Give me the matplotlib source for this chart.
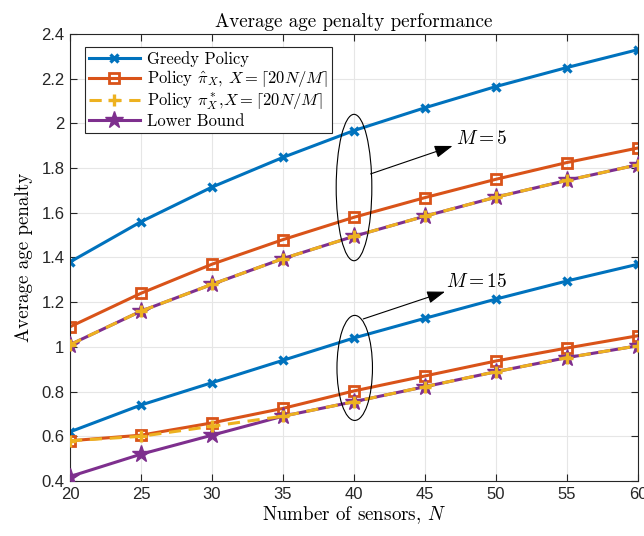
import matplotlib.pyplot as plt
from matplotlib.patches import Ellipse

plt.rcParams['mathtext.fontset'] = 'cm'

# Data
N = [20, 25, 30, 35, 40, 45, 50, 55, 60]

# M = 5
greedy_m5 = [1.38, 1.56, 1.715, 1.848, 1.968, 2.07, 2.165, 2.25, 2.33]
hat_m5 = [1.09, 1.24, 1.37, 1.48, 1.58, 1.668, 1.75, 1.825, 1.89]
star_m5 = [1.01, 1.16, 1.28, 1.395, 1.495, 1.585, 1.67, 1.745, 1.815]
lower_m5 = [1.01, 1.16, 1.28, 1.395, 1.495, 1.585, 1.67, 1.745, 1.815]

# M = 15
greedy_m15 = [0.62, 0.74, 0.84, 0.94, 1.04, 1.128, 1.214, 1.295, 1.37]
hat_m15 = [0.58, 0.605, 0.66, 0.725, 0.803, 0.87, 0.937, 0.995, 1.05]
star_m15 = [0.58, 0.60, 0.645, 0.69, 0.755, 0.822, 0.889, 0.952, 1.005]
lower_m15 = [0.42, 0.52, 0.605, 0.69, 0.755, 0.822, 0.889, 0.952, 1.005]

labels = ['Greedy Policy',
          r'Policy $\hat{\pi}_X$, $X=\lceil 20N/M\rceil$',
          r'Policy $\pi^*_X$,$X=\lceil 20N/M\rceil$',
          'Lower Bound']

blue = '#0072BD'
orange = '#D95319'
yellow = '#EDB120'
purple = '#7E2F8E'

fig = plt.figure(figsize=(6.44, 5.36), dpi=100)
ax = fig.add_axes([0.1087, 0.1026, 0.882, 0.834])

lw = 2.2
for i, (g, h, s, lb) in enumerate([(greedy_m5, hat_m5, star_m5, lower_m5),
                                   (greedy_m15, hat_m15, star_m15, lower_m15)]):
    lab = labels if i == 0 else ['_nolegend_'] * 4
    ax.plot(N, g, color=blue, lw=lw, marker='x', ms=5.5, mew=2.4, label=lab[0])
    ax.plot(N, h, color=orange, lw=lw, marker='s', ms=7.3, mfc='none', mew=2, label=lab[1])
    ax.plot(N, lb, color=purple, lw=lw, marker='*', ms=13, label=lab[3], zorder=3)
    ax.plot(N, s, color=yellow, lw=lw, ls=(0, (4, 2.5)), marker='+', ms=8, mew=2.4,
            label=lab[2], zorder=4)

# put legend entries back into the original order
handles, labs = ax.get_legend_handles_labels()
order = [0, 1, 3, 2]
leg = ax.legend([handles[k] for k in order], [labs[k] for k in order],
                loc='upper left', bbox_to_anchor=(0.02, 0.978), fancybox=False,
                edgecolor='#262626', framealpha=1,
                prop={'family': 'cmr10', 'size': 11.9},
                handlelength=3.1, borderpad=0.25, labelspacing=0.08,
                handletextpad=0.4, borderaxespad=0.2)
leg.get_frame().set_linewidth(0.8)

# ellipses and annotations
ax.add_patch(Ellipse((40.0, 1.713), 2.51, 0.655, fill=False, ec='black', lw=0.8, zorder=5))
ax.add_patch(Ellipse((40.05, 0.906), 2.5, 0.47, fill=False, ec='black', lw=0.8, zorder=5))
head = '-|>,head_length=1.1,head_width=0.38'
ax.annotate('', xy=(46.94, 1.899), xytext=(41.17, 1.774),
            arrowprops=dict(arrowstyle=head, color='black', lw=0.8, shrinkA=0, shrinkB=0))
ax.annotate('', xy=(46.41, 1.247), xytext=(40.65, 1.125),
            arrowprops=dict(arrowstyle=head, color='black', lw=0.8, shrinkA=0, shrinkB=0))
ax.text(47.15, 1.933, r'$M=5$', fontsize=14, va='center')
ax.text(46.5, 1.292, r'$M=15$', fontsize=14, va='center')

ax.set_xlim(20, 60)
ax.set_ylim(0.4, 2.4)
ax.set_xticks(N)
ax.set_yticks([0.4, 0.6, 0.8, 1, 1.2, 1.4, 1.6, 1.8, 2, 2.2, 2.4])
ax.set_yticklabels(['0.4', '0.6', '0.8', '1', '1.2', '1.4', '1.6', '1.8', '2', '2.2', '2.4'])
for t in ax.get_xticklabels() + ax.get_yticklabels():
    t.set_family('Liberation Sans')
    t.set_fontsize(12)
ax.tick_params(direction='in', length=5, width=0.8, colors='#262626', pad=4)
ax.tick_params(top=True, right=True)
ax.grid(True, color='#e6e6e6', lw=0.8)
ax.set_axisbelow(True)
for sp in ax.spines.values():
    sp.set_color('#262626')
    sp.set_linewidth(0.8)

ax.set_title('Average age penalty performance', fontfamily='cmr10', fontsize=13.7, pad=5)
ax.set_xlabel(r'Number of sensors, $N$', fontfamily='cmr10', fontsize=13.7, labelpad=2)
ax.set_ylabel('Average age penalty', fontfamily='cmr10', fontsize=13.7, labelpad=6)

fig.savefig('out.png', dpi=100)
